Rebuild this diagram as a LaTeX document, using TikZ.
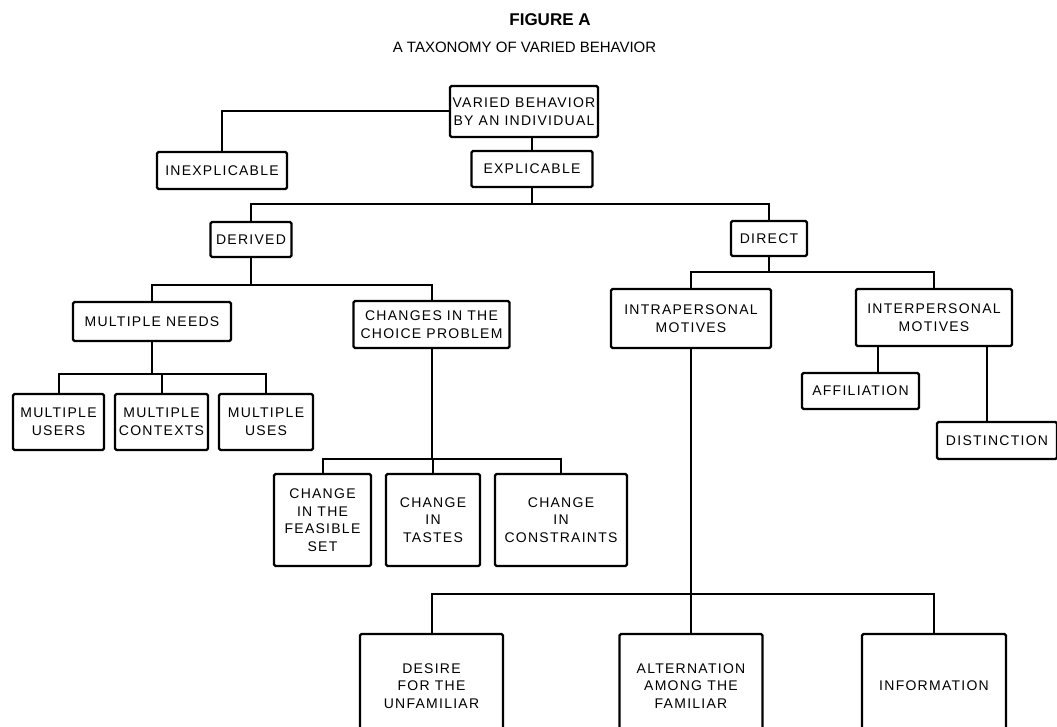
\documentclass[tikz,border=0pt]{standalone}
\usepackage{fontspec}
\setmainfont{Liberation Sans}
\newfontfamily\boxfont[LetterSpace=9]{Liberation Sans}
\begin{document}
\begin{tikzpicture}[x=1pt,y=-1pt,
  box/.style={draw,line width=2.2pt,rounded corners=1.5pt,inner sep=0pt,align=center,
    font=\boxfont\fontsize{14}{17.5}\selectfont},
  link/.style={line width=2pt},
  title/.style={font=\fontsize{17}{20}\selectfont\bfseries},
  subtitle/.style={font=\fontsize{15}{18}\selectfont}]
\useasboundingbox (0,0) rectangle (1057,727);
\clip (0,0) rectangle (1057,727);

% headings
\node[title] (fig) at (550,20) {FIGURE A};
\node[subtitle] (sub) at (524.5,47) {A TAXONOMY OF VARIED BEHAVIOR};

% level 0 and 1
\node[box,minimum width=148,minimum height=51] (root) at (524,111.5) {VARIED BEHAVIOR\\BY AN INDIVIDUAL};
\node[box,minimum width=130,minimum height=37] (inexp) at (222,170.5) {INEXPLICABLE};
\node[box,minimum width=121,minimum height=36] (exp) at (532,169) {EXPLICABLE};

% level 2
\node[box,minimum width=81,minimum height=35] (derived) at (251,239.5) {DERIVED};
\node[box,minimum width=76,minimum height=35] (direct) at (769,238.5) {DIRECT};

% derived branch
\node[box,minimum width=158,minimum height=39] (needs) at (152,321.5) {MULTIPLE NEEDS};
\node[box,minimum width=156,minimum height=47] (changes) at (431.5,324.5) {CHANGES IN THE\\CHOICE PROBLEM};
\node[box,minimum width=91,minimum height=56] (users) at (58.5,422) {MULTIPLE\\USERS};
\node[box,minimum width=93,minimum height=56] (contexts) at (161.5,422) {MULTIPLE\\CONTEXTS};
\node[box,minimum width=94,minimum height=56] (uses) at (266,422) {MULTIPLE\\USES};
\node[box,minimum width=97,minimum height=92] (feasible) at (322.5,520) {CHANGE\\IN THE\\FEASIBLE\\SET};
\node[box,minimum width=94,minimum height=92] (tastes) at (433,520) {CHANGE\\IN\\TASTES};
\node[box,minimum width=132,minimum height=92] (constraints) at (561,520) {CHANGE\\IN\\CONSTRAINTS};

% direct branch
\node[box,minimum width=160,minimum height=59] (intra) at (691,318.5) {INTRAPERSONAL\\MOTIVES};
\node[box,minimum width=156,minimum height=57] (inter) at (934,317.5) {INTERPERSONAL\\MOTIVES};
\node[box,minimum width=117,minimum height=36] (affil) at (860.5,391) {AFFILIATION};
\node[box,minimum width=120,minimum height=37] (dist) at (997,440.5) {DISTINCTION};
\node[box,minimum width=143,minimum height=104] (desire) at (431.5,686) {DESIRE\\FOR THE\\UNFAMILIAR};
\node[box,minimum width=143,minimum height=104] (altern) at (691,686) {ALTERNATION\\AMONG THE\\FAMILIAR};
\node[box,minimum width=144,minimum height=104] (info) at (934,686) {INFORMATION};

% bus levels and branch points
\coordinate (busA) at (0,204);
\coordinate (busB) at (0,285);
\coordinate (busC) at (0,374);
\coordinate (busD) at (0,459);
\coordinate (busE) at (0,272);
\coordinate (busF) at (0,594);
\coordinate (afX) at (878,0);
\coordinate (diX) at (987,0);

% connectors
\draw[link] (root.west) -| (inexp.north);
\draw[link] (exp.north) -- (exp.north |- root.south);
\draw[link] (exp.south) -- (exp.south |- busA);
\draw[link] (derived.north) |- (busA -| direct.north) -- (direct.north);

\draw[link] (derived.south) -- (derived.south |- busB);
\draw[link] (needs.north) |- (busB -| changes.north) -- (changes.north);
\draw[link] (needs.south) -- (needs.south |- busC);
\draw[link] (users.north) |- (busC -| uses.north) -- (uses.north);
\draw[link] (contexts.north) -- (contexts.north |- busC);
\draw[link] (changes.south) -- (changes.south |- busD);
\draw[link] (feasible.north) |- (busD -| constraints.north) -- (constraints.north);
\draw[link] (tastes.north) -- (tastes.north |- busD);

\draw[link] (direct.south) -- (direct.south |- busE);
\draw[link] (intra.north) |- (busE -| inter.north) -- (inter.north);
\draw[link] (inter.south -| afX) -- (affil.north -| afX);
\draw[link] (inter.south -| diX) -- (dist.north -| diX);
\draw[link] (intra.south) -- (altern.north);
\draw[link] (desire.north) |- (busF -| info.north) -- (info.north);
\end{tikzpicture}
\end{document}
